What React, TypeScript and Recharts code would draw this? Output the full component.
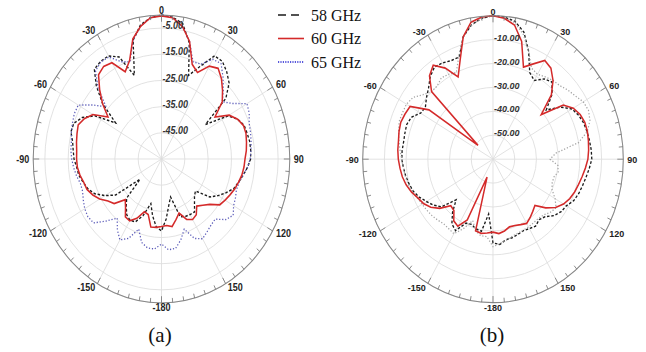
import React from 'react';
import { RadarChart, Radar, PolarGrid, PolarAngleAxis, PolarRadiusAxis } from 'recharts';

// ---------- data ----------
const ANGLES = [
  0, 5, 10, 15, 20, 25, 30, 35, 40, 45, 50, 55,
  60, 65, 70, 75, 80, 85, 90, 95, 100, 105, 110, 115,
  120, 125, 130, 135, 140, 145, 150, 155, 160, 165, 170, 175,
  180, 185, 190, 195, 200, 205, 210, 215, 220, 225, 230, 235,
  240, 245, 250, 255, 260, 265, 270, 275, 280, 285, 290, 295,
  300, 305, 310, 315, 320, 325, 330, 335, 340, 345, 350, 355,
];

const SERIES_NAMES = ['58 GHz', '60 GHz', '65 GHz'];

// (a)
const A_58 = [
  0, -0.6, -2.5, -9, -21, -16,
  -9.5, -9.5, -11.5, -14, -19, -32,
  -22, -19, -17.3, -17, -16.6, -16.6,
  -16.8, -18, -19.4, -20.8, -22, -24.5,
  -27, -29.7, -36, -35, -33, -30.3,
  -30.5, -30.8, -31.5, -40, -37, -32,
  -27.5, -29, -33, -37.4, -32, -28.5,
  -28, -29, -31.5, -33.9, -43, -31,
  -27, -23.5, -21.5, -20.3, -19, -18.5,
  -17.5, -17, -16.3, -14.8, -15, -17.5,
  -22, -31, -22, -15.5, -10.2, -9.5,
  -9.5, -12, -21, -8, -3, -0.8,
];
const A_60 = [
  -0.3, -0.8, -3.5, -8.5, -16.5, -18.5,
  -14, -12.7, -15, -18, -21, -27,
  -21.5, -19, -17.6, -17.5, -18, -18.5,
  -19.2, -19.5, -20, -20.8, -21.6, -22.6,
  -23.5, -24.5, -28, -30, -31.5, -29,
  -28.3, -29.5, -33, -31, -28.8, -29.5,
  -29.2, -28.8, -28.6, -33, -33.5, -30,
  -27.7, -28, -31, -33, -28.5, -27,
  -24.4, -22.5, -21, -20.5, -19.5, -18.8,
  -18.6, -18.5, -18, -17.5, -17, -18.5,
  -21, -27, -22, -17.5, -13, -11.8,
  -12.5, -18.2, -15, -7.5, -3.5, -0.8,
];
const A_65 = [
  0, -0.8, -3.5, -8.5, -15.5, -15,
  -11, -10.5, -14, -17.5, -21, -18,
  -12.7, -13.5, -15, -15.5, -16, -16.5,
  -17, -18, -19.5, -20.5, -20.8, -20,
  -19.3, -17.5, -19, -22.5, -22, -21,
  -19.8, -21.5, -26.5, -23, -20.3, -20.2,
  -22.5, -20.5, -20.5, -22, -26.5, -21.5,
  -19.3, -22, -25.5, -21.5, -17, -16.5,
  -17, -18, -19, -19, -18, -17.2,
  -16.5, -16, -15.8, -15, -14.4, -13.8,
  -13.8, -19, -24, -16.5, -11, -9.7,
  -10, -14, -15.5, -8, -3.5, -0.8,
];

// (b)
const B_58 = [
  0, -0.3, -1.5, -5, -12, -20,
  -22, -19, -17.8, -21.5, -28, -22,
  -18, -16.5, -15.6, -15.2, -14.9, -14.6,
  -14.5, -15.5, -16.5, -17.3, -18, -19,
  -21, -21.7, -23.3, -26, -27, -25.8,
  -26.5, -27, -26.5, -26, -25.8, -24.2,
  -25, -37, -29.4, -29.8, -31, -30.5,
  -25.5, -27, -31, -36, -29, -26.5,
  -24.6, -22.5, -20.9, -20, -19.2, -18.6,
  -18, -18, -18.2, -18, -17.7, -18.5,
  -21.5, -22, -20, -18, -15, -13,
  -13.5, -14.5, -14.5, -7, -3, -0.8,
];
const B_60 = [
  0, -0.8, -3, -9, -19, -16,
  -12.3, -13.5, -17, -22, -31, -20.5,
  -17.3, -15.7, -15, -15, -15.4, -15.8,
  -16.3, -17.3, -18.3, -19.2, -20, -21,
  -22.5, -24.8, -28.3, -32.7, -31.5, -30.2,
  -29, -29.8, -30.5, -30.7, -29.5, -28.8,
  -29.5, -29, -28.5, -29, -52, -32,
  -27.6, -28.5, -32, -32.5, -28, -25,
  -23, -21.8, -20, -18.6, -17.6, -17,
  -16.4, -16, -15.8, -15.2, -14.8, -15.3,
  -15.9, -24, -51, -20, -14.5, -12,
  -16, -22, -15.8, -7, -1.8, -0.3,
];
const B_65 = [
  0, -0.5, -2, -6, -12, -18,
  -19, -18, -17, -16.5, -15, -13.8,
  -12, -11.5, -12.5, -15, -20, -31,
  -33.7, -30, -29.5, -31, -31, -30,
  -27, -24.5, -25.5, -27, -27.6, -27.5,
  -27.3, -27.2, -27, -26.5, -25.5, -24.5,
  -23.4, -27.5, -27.5, -29, -32.7, -28,
  -24, -24.5, -24.7, -24, -23.3, -22.8,
  -22.3, -21.5, -20.5, -19.5, -19, -18.5,
  -18, -17, -16, -15, -14, -14,
  -14, -15, -18, -20, -20, -18.5,
  -19, -20, -14, -7, -3, -0.8,
];

const LABEL_ANGLES = [0, 30, 60, 90, 120, 150, 180, 210, 240, 270, 300, 330];
const A_RADIUS_TICKS = [-45, -35, -25, -15, -5, 0];
const B_RADIUS_TICKS = [-50, -40, -30, -20, -10, 0];
const A_DOMAIN: [number, number] = [-55, 0];
const B_DOMAIN: [number, number] = [-60, 0];

// ---------- styling ----------
const SANS = '"Liberation Sans", Arial, sans-serif';
const SERIF = '"Liberation Serif", "Times New Roman", serif';
const RED = '#d42a2a';
const BLACK = '#1a1a1a';
const BLUE_A = '#5a5ab8';
const GREY_B = '#a4a4a4';
const LEGEND_BLUE = '#2222d0';

const buildRows = (s58: number[], s60: number[], s65: number[]) =>
  ANGLES.map((a, i) => ({ angle: a, f58: s58[i], f60: s60[i], f65: s65[i] }));

const ROWS_A = buildRows(A_58, A_60, A_65);
const ROWS_B = buildRows(B_58, B_60, B_65);

const fmtAngle = (v: number) => (v === 0 ? '0' : v >= 180 ? String(v - 360) : String(v));

const makeAngleTick = (cx: number, cy: number, R: number) => (props: any) => {
  const { payload } = props;
  const deg = Number(payload.coordinate);
  const rad = (-deg * Math.PI) / 180;
  const c = Math.cos(rad);
  const s = Math.sin(rad);
  const v = Number(payload.value);
  const major = LABEL_ANGLES.includes(v);
  const len = major ? 6 : 4;
  const x1 = cx + R * c;
  const y1 = cy + R * s;
  const x2 = cx + (R - len) * c;
  const y2 = cy + (R - len) * s;
  let label: React.ReactNode = null;
  if (major) {
    const lr = R + 4;
    const anchor = c > 0.1 ? 'start' : c < -0.1 ? 'end' : 'middle';
    label = (
      <text
        x={cx + lr * c}
        y={cy + lr * s}
        textAnchor={anchor}
        dominantBaseline="central"
        fontFamily={SANS}
        fontWeight="bold"
        fontSize={9}
        fill="#222"
      >
        {fmtAngle(v)}
      </text>
    );
  }
  return (
    <g>
      <line x1={x1} y1={y1} x2={x2} y2={y2} stroke="#777" strokeWidth={0.8} />
      {label}
    </g>
  );
};

const RadiusTick = (props: any) => {
  const { x, y, payload } = props;
  if (Number(payload.value) === 0) return <g />;
  return (
    <text
      x={x + 1}
      y={y + 1}
      fontFamily={SANS}
      fontStyle="italic"
      fontWeight="bold"
      fontSize={9}
      fill="#333"
    >
      {Number(payload.value).toFixed(2)}
    </text>
  );
};

type PanelProps = {
  rows: any[];
  left: number;
  width: number;
  cx: number;
  cy: number;
  R: number;
  sy: number;
  domain: [number, number];
  ticks: number[];
  color65: string;
};

const Panel = ({ rows, left, width, cx, cy, R, sy, domain, ticks, color65 }: PanelProps) => (
  <div
    style={{
      position: 'absolute',
      left,
      top: 0,
      width,
      height: 330,
      transform: `scaleY(${sy})`,
      transformOrigin: `0px ${cy}px`,
    }}
  >
    <RadarChart
      width={width}
      height={330}
      cx={cx}
      cy={cy}
      outerRadius={R}
      startAngle={90}
      endAngle={-270}
      data={rows}
      margin={{ top: 0, right: 0, bottom: 0, left: 0 }}
    >
      <PolarGrid
        gridType="circle"
        stroke="#dddddd"
        strokeWidth={0.8}
        polarAngles={LABEL_ANGLES.map((a) => 90 - a)}
      />
      <PolarAngleAxis
        dataKey="angle"
        axisLineType="circle"
        axisLine={{ stroke: '#888', strokeWidth: 1 }}
        tickLine={false}
        tick={makeAngleTick(cx, cy, R)}
      />
      <PolarRadiusAxis
        angle={90}
        type="number"
        domain={domain}
        ticks={ticks}
        allowDataOverflow
        axisLine={false}
        tickLine={false}
        tick={RadiusTick}
      />
      <Radar
        name={SERIES_NAMES[0]}
        dataKey="f58"
        stroke={BLACK}
        strokeWidth={1.3}
        strokeDasharray="2.5 1.8"
        fill="none"
        fillOpacity={0}
        dot={false}
        isAnimationActive={false}
      />
      <Radar
        name={SERIES_NAMES[2]}
        dataKey="f65"
        stroke={color65}
        strokeWidth={1.2}
        strokeDasharray="1.2 1.8"
        fill="none"
        fillOpacity={0}
        dot={false}
        isAnimationActive={false}
      />
      <Radar
        name={SERIES_NAMES[1]}
        dataKey="f60"
        stroke={RED}
        strokeWidth={1.5}
        fill="none"
        fillOpacity={0}
        dot={false}
        isAnimationActive={false}
      />
    </RadarChart>
  </div>
);

const LEGEND_ITEMS = [
  { name: SERIES_NAMES[0], color: BLACK, dash: '8 5', width: 1.5 },
  { name: SERIES_NAMES[1], color: RED, dash: undefined, width: 1.6 },
  { name: SERIES_NAMES[2], color: LEGEND_BLUE, dash: '1.2 1.2', width: 1.3 },
];

export default function App() {
  return (
    <div
      style={{
        position: 'absolute',
        left: 0,
        top: 0,
        width: 646,
        height: 352,
        background: '#fff',
        overflow: 'hidden',
      }}
    >
      <Panel
        rows={ROWS_A}
        left={0}
        width={325}
        cx={161.5}
        cy={159}
        R={128.3}
        sy={1.122}
        domain={A_DOMAIN}
        ticks={A_RADIUS_TICKS}
        color65={BLUE_A}
      />
      <Panel
        rows={ROWS_B}
        left={330}
        width={316}
        cx={163}
        cy={159.2}
        R={130.3}
        sy={1.101}
        domain={B_DOMAIN}
        ticks={B_RADIUS_TICKS}
        color65={GREY_B}
      />
      <svg
        width={646}
        height={352}
        style={{ position: 'absolute', left: 0, top: 0, pointerEvents: 'none' }}
      >
        {LEGEND_ITEMS.map((it, i) => {
          const y = 15 + i * 23.5;
          return (
            <g key={it.name}>
              <line
                x1={278}
                x2={304}
                y1={y}
                y2={y}
                stroke={it.color}
                strokeWidth={it.width}
                strokeDasharray={it.dash}
              />
              <text
                x={311}
                y={y}
                dominantBaseline="central"
                fontFamily={SERIF}
                fontSize={16}
                fill="#111"
              >
                {it.name}
              </text>
            </g>
          );
        })}
        <text x={160} y={335} textAnchor="middle" dominantBaseline="central" fontFamily={SERIF} fontSize={21} fill="#111">
          (a)
        </text>
        <text x={492} y={335} textAnchor="middle" dominantBaseline="central" fontFamily={SERIF} fontSize={21} fill="#111">
          (b)
        </text>
      </svg>
    </div>
  );
}
